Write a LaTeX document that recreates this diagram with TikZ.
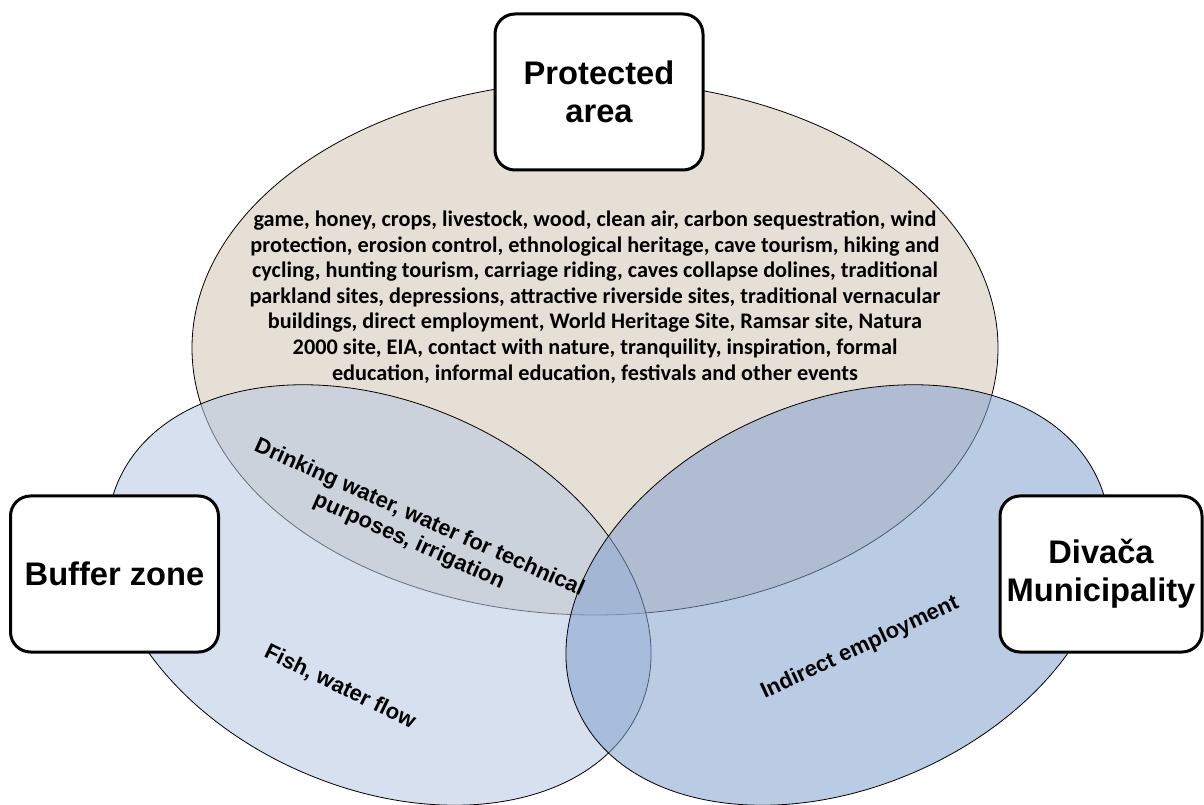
\documentclass[tikz,border=0pt]{standalone}
\usepackage{fontspec}
\setmainfont{Carlito}
\newfontfamily\labelfont{Liberation Sans}
\definecolor{paFill}{RGB}{230,223,213}
\definecolor{bzFill}{RGB}{182,200,225}
\definecolor{dmFill}{RGB}{132,162,207}
\begin{document}
\begin{tikzpicture}[x=0.75pt,y=-0.75pt,
  venn/.style={draw=black, line width=0.6pt},
  titlebox/.style={draw=black, line width=2.25pt, fill=white, rounded corners=15pt,
    minimum width=156pt, minimum height=117pt, inner sep=0pt, align=center,
    font=\labelfont\bfseries\fontsize{24.5}{28.5}\selectfont},
  listtext/.style={align=center, inner sep=0pt,
    font=\bfseries\fontsize{16.7}{19.2}\selectfont},
  slanted/.style={align=center, inner sep=0pt,
    font=\labelfont\bfseries\fontsize{16.5}{19}\selectfont}]
\useasboundingbox (0,0) rectangle (1204,805);

% the three overlapping zones
\draw[venn, fill=paFill] (595,348) ellipse [x radius=403, y radius=267];
\draw[venn, fill=bzFill, fill opacity=0.56, shift={(379,595)}, rotate=-23.5]
  (0,0) ellipse [x radius=284.5, y radius=193];
\draw[venn, fill=dmFill, fill opacity=0.56, shift={(838,595)}, rotate=23.5]
  (0,0) ellipse [x radius=284.5, y radius=193];

% zone titles
\node[titlebox] (pa) at (599,92) {Protected\\area};
\node[titlebox] (bz) at (114.5,574) {Buffer zone};
\node[titlebox, minimum width=151.5pt] (dm) at (1101,574) {Divača\\Municipality};

% services in each zone
\node[listtext] (core) at (595,297) {game, honey, crops, livestock, wood, clean air, carbon sequestration, wind\\
protection, erosion control, ethnological heritage, cave tourism, hiking and\\
cycling, hunting tourism, carriage riding, caves collapse dolines, traditional\\
parkland sites, depressions, attractive riverside sites, traditional vernacular\\
buildings, direct employment, World Heritage Site, Ramsar site, Natura\\
2000 site, EIA, contact with nature, tranquility, inspiration, formal\\
education, informal education, festivals and other events};

\node[slanted, rotate=-24] (drink) at (414,530) {Drinking water, water for technical\\purposes, irrigation};
\node[slanted, rotate=-26] (fish) at (340,687) {Fish, water flow};
\node[slanted, rotate=25] (indirect) at (860,648) {Indirect employment};
\end{tikzpicture}
\end{document}
